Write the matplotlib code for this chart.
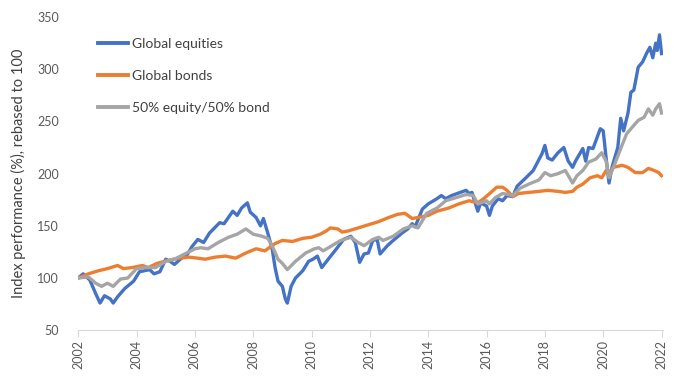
from matplotlib import pyplot as plt

# index levels, rebased to 100 at start of 2002
eq_t = [2002.0, 2002.17, 2002.4, 2002.6, 2002.75, 2002.9, 2003.1, 2003.2, 2003.35, 2003.6,
        2003.9, 2004.1, 2004.45, 2004.6, 2004.8, 2005.0, 2005.15, 2005.3, 2005.5, 2005.75,
        2005.9, 2006.1, 2006.3, 2006.5, 2006.85, 2007.0, 2007.3, 2007.45, 2007.6, 2007.8,
        2007.9, 2008.1, 2008.25, 2008.35, 2008.5, 2008.65, 2008.75, 2008.85, 2009.0, 2009.1,
        2009.17, 2009.3, 2009.45, 2009.7, 2009.9, 2010.05, 2010.2, 2010.35, 2010.6, 2010.8,
        2011.1, 2011.35, 2011.5, 2011.65, 2011.8, 2011.95, 2012.1, 2012.25, 2012.35, 2012.6,
        2012.8, 2013.1, 2013.3, 2013.45, 2013.55, 2013.8, 2014.0, 2014.3, 2014.45, 2014.6,
        2014.8, 2015.1, 2015.3, 2015.4, 2015.5, 2015.7, 2015.8, 2016.0, 2016.1, 2016.2,
        2016.4, 2016.55, 2016.7, 2016.9, 2017.05, 2017.35, 2017.6, 2017.75, 2017.9, 2018.0,
        2018.1, 2018.25, 2018.45, 2018.65, 2018.8, 2018.95, 2019.05, 2019.3, 2019.4, 2019.5,
        2019.65, 2019.9, 2020.0, 2020.1, 2020.2, 2020.3, 2020.5, 2020.6, 2020.7, 2020.85,
        2020.95, 2021.05, 2021.2, 2021.35, 2021.5, 2021.6, 2021.7, 2021.8, 2021.85, 2021.93,
        2022.0]
equities = [100, 104, 98, 85, 76, 83, 80, 76, 82, 90,
            97, 106, 108, 104, 106, 118, 116, 113, 118, 123,
            130, 137, 134, 143, 153, 152, 164, 160, 167, 172,
            163, 158, 150, 157, 143, 128, 110, 97, 92, 80,
            76, 92, 100, 107, 116, 118, 121, 110, 119, 126,
            137, 140, 134, 115, 123, 124, 136, 137, 123, 131,
            136, 143, 147, 152, 149, 166, 171, 176, 179, 176,
            179, 182, 184, 181, 182, 164, 172, 169, 160, 169,
            176, 174, 179, 178, 188, 196, 203, 211, 219, 227,
            215, 213, 220, 225, 212, 206, 212, 224, 212, 225,
            224, 243, 241, 215, 191, 206, 225, 253, 241, 258,
            278, 280, 302, 307, 316, 321, 311, 325, 318, 333,
            315]

bd_t = [2002.0, 2002.35, 2002.7, 2003.0, 2003.35, 2003.55, 2003.85, 2004.2, 2004.4, 2004.7,
        2005.1, 2005.45, 2005.8, 2006.1, 2006.35, 2006.7, 2007.05, 2007.4, 2007.75, 2008.1,
        2008.4, 2008.75, 2009.0, 2009.35, 2009.7, 2010.0, 2010.3, 2010.5, 2010.65, 2010.9,
        2011.05, 2011.25, 2011.6, 2011.95, 2012.3, 2012.65, 2012.95, 2013.2, 2013.45, 2013.65,
        2014.0, 2014.3, 2014.7, 2015.05, 2015.4, 2015.7, 2015.9, 2016.15, 2016.35, 2016.55,
        2016.7, 2016.9, 2017.1, 2017.45, 2017.8, 2018.1, 2018.45, 2018.7, 2018.95, 2019.1,
        2019.3, 2019.55, 2019.8, 2019.95, 2020.1, 2020.2, 2020.35, 2020.65, 2020.85, 2021.1,
        2021.35, 2021.55, 2021.75, 2021.9, 2022.0]
bonds = [100, 104, 107, 109, 112, 109, 110, 112, 110, 114,
         117, 119, 120, 119, 118, 120, 121, 119, 124, 128,
         126, 133, 136, 135, 138, 139, 142, 145, 148, 147,
         144, 145, 148, 151, 154, 158, 161, 162, 157, 158,
         160, 164, 167, 171, 174, 172, 176, 182, 187, 187,
         184, 178, 181, 182, 183, 184, 183, 182, 183, 187,
         190, 196, 198, 196, 203, 201, 206, 208, 206, 201,
         201, 205, 203, 201, 198]

mx_t = [2002.0, 2002.35, 2002.6, 2002.8, 2003.0, 2003.2, 2003.45, 2003.7, 2004.0, 2004.35,
        2004.65, 2005.0, 2005.3, 2005.65, 2006.0, 2006.2, 2006.45, 2006.8, 2007.15, 2007.45,
        2007.75, 2008.0, 2008.3, 2008.5, 2008.65, 2008.85, 2009.0, 2009.17, 2009.45, 2009.8,
        2010.1, 2010.25, 2010.4, 2010.7, 2011.0, 2011.35, 2011.6, 2011.8, 2012.1, 2012.3,
        2012.45, 2012.8, 2013.15, 2013.45, 2013.65, 2013.95, 2014.3, 2014.6, 2014.95, 2015.3,
        2015.55, 2015.7, 2016.0, 2016.1, 2016.3, 2016.55, 2016.75, 2016.9, 2017.15, 2017.45,
        2017.8, 2018.0, 2018.2, 2018.45, 2018.7, 2018.95, 2019.1, 2019.3, 2019.5, 2019.75,
        2019.95, 2020.1, 2020.2, 2020.35, 2020.6, 2020.8, 2020.95, 2021.2, 2021.4, 2021.55,
        2021.7, 2021.8, 2021.93, 2022.0]
mixed = [100, 101, 95, 92, 95, 92, 99, 100, 109, 110,
         110, 116, 118, 123, 128, 129, 128, 134, 139, 142,
         147, 142, 140, 138, 131, 118, 114, 108, 116, 124,
         128, 129, 126, 131, 136, 139, 134, 131, 137, 139,
         136, 140, 147, 150, 148, 162, 167, 174, 177, 180,
         179, 171, 174, 171, 177, 181, 180, 179, 186, 190,
         194, 201, 198, 200, 203, 191, 198, 203, 211, 214,
         220, 212, 196, 206, 224, 238, 243, 251, 254, 262,
         256, 262, 267, 258]

years = list(range(2002, 2023, 2))
yticks = [50, 100, 150, 200, 250, 300, 350]

plt.rcParams['font.family'] = ['Lato', 'DejaVu Sans']

fig = plt.figure(figsize=(6.8, 3.88), dpi=100)
ax = fig.add_axes([0.115, 0.149, 0.86, 0.807])

ax.plot(eq_t, equities, color='#4472C4', lw=2.4, label='Global equities')
ax.plot(bd_t, bonds, color='#ED7D31', lw=2.4, label='Global bonds')
ax.plot(mx_t, mixed, color='#A5A5A5', lw=2.4, label='50% equity/50% bond')

ax.set_xlim(2002, 2022.05)
ax.set_ylim(50, 350)
ax.set_xticks(years)
ax.set_xticklabels([str(y) for y in years], rotation=90, fontsize=9, color='#595959')
ax.set_yticks(yticks)
ax.set_yticklabels([str(v) for v in yticks], fontsize=9, color='#595959')
ax.tick_params(axis='y', length=0, pad=14)
ax.tick_params(axis='x', length=5, color='#D9D9D9', pad=2)

for s in ['top', 'right', 'left']:
    ax.spines[s].set_visible(False)
ax.spines['bottom'].set_color('#D9D9D9')

ax.set_ylabel('Index performance (%), rebased to 100', fontsize=10.5, color='#404040', labelpad=8)

leg = ax.legend(loc='upper left', bbox_to_anchor=(0.144, 0.903), bbox_transform=fig.transFigure,
                frameon=False, fontsize=10, handlelength=2.16, handletextpad=0.3,
                labelspacing=1.45, borderpad=0, borderaxespad=0)
for t in leg.get_texts():
    t.set_color('#404040')
for h in leg.get_lines():
    h.set_linewidth(2.8)

fig.savefig('out.png', dpi=100)
